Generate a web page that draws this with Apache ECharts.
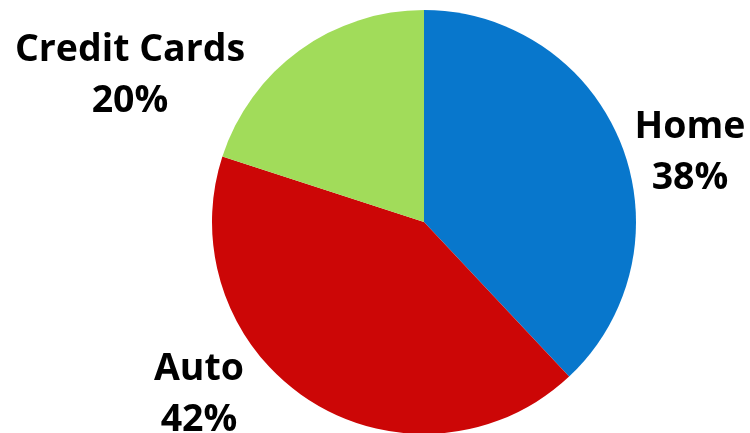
<!DOCTYPE html>
<html>
<head>
<meta charset="utf-8">
<script src="https://cdn.jsdelivr.net/npm/echarts@6/dist/echarts.min.js"></script>
<style>
  html, body { margin: 0; padding: 0; background: #ffffff; }
  #chart { width: 750px; height: 433px; }
</style>
</head>
<body>
<div id="chart"></div>
<script>
// Loan categories and their share of the total
const categories = ['Home', 'Auto', 'Credit Cards'];
const shares = [38, 42, 20];
const colors = ['#0877cc', '#cc0606', '#a1dc5a'];
// Label anchor points (centre of each two-line label)
const labelAnchors = [[690, 153], [199, 395], [130, 76]];

const chart = echarts.init(document.getElementById('chart'), null, { renderer: 'canvas' });

chart.setOption({
  animation: false,
  series: [{
    type: 'pie',
    center: [424, 222],
    radius: 212,
    startAngle: 90,
    clockwise: true,
    data: categories.map((name, i) => ({
      name: name,
      value: shares[i],
      itemStyle: { color: colors[i] }
    })),
    label: {
      show: true,
      position: 'outside',
      formatter: p => p.name + '\n' + p.value + '%',
      fontFamily: '"Open Sans", sans-serif',
      fontWeight: 'bold',
      fontSize: 37.5,
      lineHeight: 51,
      color: '#000000',
      align: 'center',
      overflow: 'none'
    },
    labelLine: { show: false },
    labelLayout: params => {
      const a = labelAnchors[params.dataIndex];
      return { x: a[0], y: a[1], align: 'center', verticalAlign: 'middle', width: 300 };
    },
    emphasis: { disabled: true }
  }]
});
</script>
</body>
</html>
